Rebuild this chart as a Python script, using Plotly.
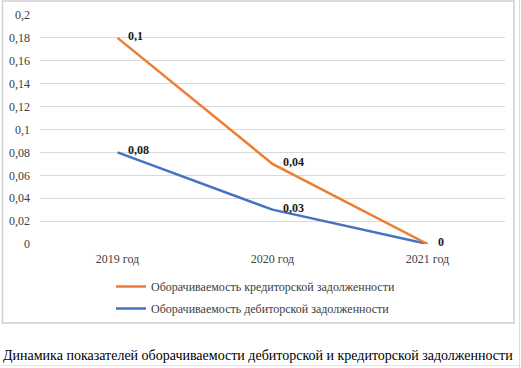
import numpy as np
import plotly.graph_objects as go

categories = ["2019 год", "2020 год", "2021 год"]
debit_turnover = [0.08, 0.03, 0]     # Оборачиваемость дебиторской задолженности
credit_turnover = [0.1, 0.04, 0]     # Оборачиваемость кредиторской задолженности
y_tick_vals = [0, 0.02, 0.04, 0.06, 0.08, 0.1, 0.12, 0.14, 0.16, 0.18, 0.2]
y_tick_text = ["0", "0,02", "0,04", "0,06", "0,08", "0,1", "0,12", "0,14", "0,16", "0,18", "0,2"]
name_debit = "Оборачиваемость дебиторской задолженности"
name_credit = "Оборачиваемость кредиторской задолженности"
caption = "Динамика показателей оборачиваемости дебиторской и кредиторской задолженности"

FONT = "Liberation Serif"
W, H = 521, 368
L, R, T, B = 40, 16, 15, 124

def fmt(v):
    return ("%g" % v).replace(".", ",")

fig = go.Figure()
fig.add_trace(go.Scatter(x=categories, y=debit_turnover, name=name_debit, mode="lines",
                         stackgroup="one", fill="none", legendgroup="b", legendrank=2,
                         line=dict(color="#4472C4", width=2.5)))
fig.add_trace(go.Scatter(x=categories, y=credit_turnover, name=name_credit, mode="lines",
                         stackgroup="one", fill="none", legendgroup="a", legendrank=1,
                         line=dict(color="#ED7D31", width=2.5)))

cum_debit = np.array(debit_turnover, dtype=float)
cum_credit = cum_debit + np.array(credit_turnover, dtype=float)
annotations = []
for series, cum, other in ((debit_turnover, cum_debit, cum_credit), (credit_turnover, cum_credit, None)):
    for i, (c, v, y) in enumerate(zip(categories, series, cum)):
        if other is not None and abs(other[i] - y) < 1e-12:
            continue  # hidden under the upper series' label, as in the original
        annotations.append(dict(x=c, y=float(y), text="<b>" + fmt(v) + "</b>", showarrow=False,
                                xanchor="left", yanchor="middle", xshift=8, yshift=2,
                                font=dict(family=FONT, size=12, color="#1a1a1a")))

pw = W - L - R
ph = H - T - B
def px(x):
    return (x - L) / pw
def py(y):
    return (H - B - y) / ph

annotations.append(dict(xref="paper", yref="paper", x=px(258), y=py(355), text=caption,
                        showarrow=False, xanchor="center", yanchor="middle",
                        font=dict(family=FONT, size=14, color="#000000")))

shapes = [
    dict(type="rect", xref="paper", yref="paper", x0=px(2.5), x1=px(514), y0=py(323), y1=py(1),
         line=dict(color="#d0d0d0", width=1.5), fillcolor="rgba(0,0,0,0)", layer="below"),
    dict(type="line", xref="paper", yref="paper", x0=px(519.5), x1=px(519.5), y0=py(368), y1=py(0),
         line=dict(color="#dcdcdc", width=1)),
    dict(type="line", xref="paper", yref="paper", x0=px(0), x1=px(521), y0=py(365.5), y1=py(365.5),
         line=dict(color="#e3e3e3", width=1)),
]

fig.update_layout(
    width=W, height=H,
    margin=dict(l=L, r=R, t=T, b=B, autoexpand=False),
    paper_bgcolor="white", plot_bgcolor="white",
    font=dict(family=FONT, size=11, color="#404040"),
    showlegend=True,
    legend=dict(x=px(111), y=py(272), xanchor="left", yanchor="top",
                traceorder="grouped", tracegroupgap=3,
                font=dict(family=FONT, size=12, color="#404040"),
                bgcolor="rgba(0,0,0,0)"),
    xaxis=dict(type="category", range=[-0.5, 2.5], showgrid=False, showline=False,
               zeroline=False, ticks="", ticklabelstandoff=6,
               tickfont=dict(family=FONT, size=12, color="#404040")),
    yaxis=dict(range=[0, 0.2], tickvals=y_tick_vals, ticktext=y_tick_text,
               showgrid=True, gridcolor="#d9d9d9", gridwidth=1, zeroline=False,
               showline=False, ticks="", ticklabelstandoff=9,
               tickfont=dict(family=FONT, size=12, color="#404040")),
    annotations=annotations,
    shapes=shapes,
)

fig.write_html("out.html", config={"displayModeBar": False},
               post_script="document.body.style.margin='0';document.body.style.padding='0';")
